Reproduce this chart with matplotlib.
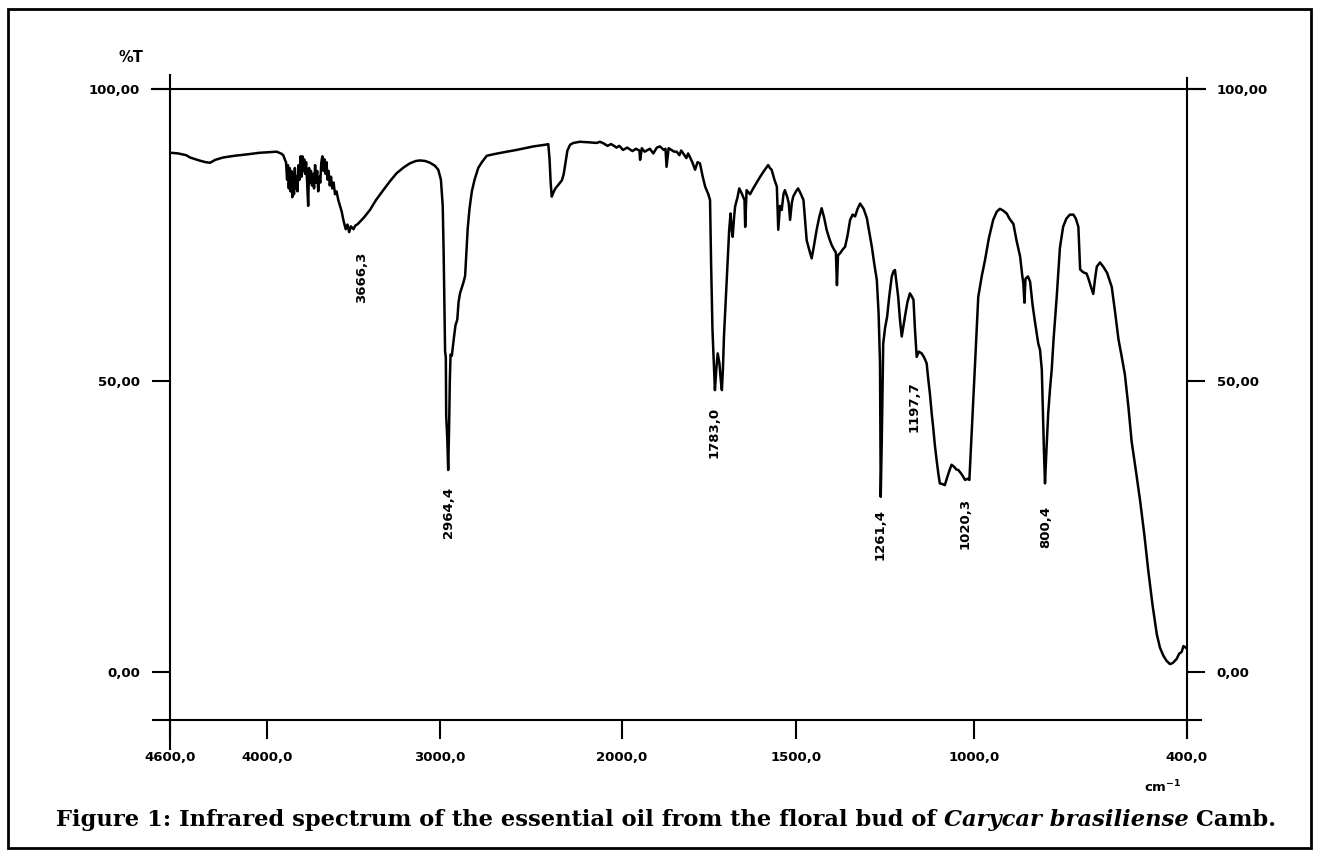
import numpy as np
import matplotlib
matplotlib.use('Agg')
import matplotlib.pyplot as plt
from matplotlib.lines import Line2D
from matplotlib.patches import Rectangle

# ---- spectrum ----
wavenumber = [4590, 4550, 4500, 4476, 4420, 4380, 4352, 4320, 4272, 4200, 4105, 4050, 3990, 3944, 3920, 3906, 3895,
              3890, 3884, 3879, 3874, 3869, 3864, 3859, 3854, 3849, 3844, 3839, 3834, 3829, 3824, 3818, 3812, 3806,
              3800, 3795, 3790, 3785, 3780, 3774, 3768, 3762, 3757, 3752, 3746, 3740, 3734, 3728, 3722, 3716, 3710,
              3704, 3698, 3692, 3686, 3680, 3674, 3668, 3662, 3656, 3650, 3644, 3637, 3630, 3623, 3615, 3607, 3598,
              3588, 3578, 3568, 3558,
              3545, 3535, 3525, 3515, 3500, 3490, 3475, 3462, 3440, 3405, 3370, 3328, 3290, 3251, 3210, 3174,
              3140, 3116, 3085, 3058, 3030, 3010, 2995, 2985, 2980, 2975, 2972, 2968, 2966, 2960, 2955, 2950, 2946,
              2942, 2935, 2925, 2915, 2905, 2898, 2890, 2880, 2870, 2862, 2855, 2848, 2838, 2825, 2810, 2790, 2770,
              2743, 2700, 2650, 2579, 2487, 2420, 2405, 2398, 2392, 2386, 2377, 2366, 2350, 2330, 2320, 2310, 2300,
              2285, 2267, 2231, 2180, 2139, 2121, 2100, 2080, 2060, 2049, 2030, 2015, 1997, 1985, 1970, 1960, 1950,
              1948, 1943, 1935, 1920, 1910, 1900, 1891, 1880, 1875, 1872, 1866, 1858, 1850, 1843, 1835, 1830, 1824,
              1815, 1810, 1805, 1798, 1790, 1783, 1776, 1768, 1761, 1752, 1747, 1744, 1740, 1736, 1733, 1729, 1725,
              1720, 1716, 1713, 1710, 1707, 1699, 1692, 1688, 1685, 1682, 1678, 1675, 1668, 1663, 1655, 1648, 1646,
              1642, 1632, 1623, 1613, 1603, 1592, 1580, 1575, 1570, 1562, 1555, 1551, 1546, 1541, 1536, 1532, 1525,
              1521, 1517, 1512, 1508, 1500, 1494, 1486, 1479, 1475, 1470, 1463, 1456, 1450, 1442, 1435, 1428, 1421,
              1414, 1407, 1400, 1393, 1388, 1385, 1382, 1376, 1369, 1362, 1355, 1348, 1341, 1334, 1327, 1320, 1310,
              1301, 1294, 1287, 1280, 1273, 1268, 1264, 1262, 1259, 1258, 1255, 1250, 1244, 1238, 1231, 1226, 1222,
              1218, 1213, 1208, 1203, 1198, 1194, 1187, 1180, 1175, 1170, 1166, 1161, 1155, 1147, 1140, 1133, 1128,
              1124, 1119, 1114, 1110, 1105, 1100, 1096, 1089, 1082, 1075, 1068, 1063, 1055, 1050, 1044, 1035, 1025,
              1018, 1013, 1006, 997, 988, 978, 969, 958, 946, 936, 927, 918, 908, 900, 889, 880, 870, 864, 861, 858,
              855, 848, 842, 835, 828, 819, 814, 809, 806, 803, 800, 796, 791, 786, 781, 776, 767, 758, 749, 740,
              730, 720, 713, 706, 703, 701, 692, 683, 678, 670, 664, 659, 654, 645, 635, 625, 612, 603, 593, 585,
              575, 565, 556, 545, 532, 520, 509, 497, 485, 476, 467, 458, 448, 440, 429, 422, 415, 410, 403]
transmittance = [89.1, 89.0, 88.7, 88.3, 87.8, 87.5, 87.4, 87.9, 88.3, 88.6, 88.9, 89.1, 89.2, 89.3, 89.0, 88.7, 87.8,
                 87.5, 84.5, 87.0, 83.0, 86.5, 82.5, 86.0, 81.5, 85.5, 82.0, 86.5, 83.0, 85.0, 82.5, 87.0, 84.5, 88.5,
                 85.0, 88.5, 86.0, 88.0, 85.5, 87.5, 84.0, 80.0, 86.5, 84.0, 86.0, 83.5, 85.5, 83.0, 87.0, 84.0, 86.0,
                 82.5, 85.0, 84.0, 87.5, 88.5, 86.0, 88.0, 85.5, 87.5, 84.5, 86.0, 83.5, 85.0, 83.0, 84.0, 82.0, 82.5,
                 81.0, 80.0, 79.0, 77.5,
                 76.0, 76.8, 75.5, 76.5, 76.0, 76.6, 76.9, 77.3, 78.0, 79.3, 81.0, 82.7, 84.2, 85.6, 86.6, 87.3,
                 87.7, 87.8, 87.7, 87.4, 86.9, 86.2, 84.5, 80.0, 72.0, 62.0, 55.0, 54.0, 44.0, 40.0, 34.7, 42.0, 50.0,
                 54.5, 54.3, 57.0, 59.5, 60.5, 63.5, 65.0, 66.0, 67.0, 68.0, 72.0, 76.0, 79.5, 82.5, 84.5, 86.5, 87.5,
                 88.6, 88.9, 89.2, 89.6, 90.2, 90.5, 90.6, 88.0, 84.0, 81.6, 82.3, 83.0, 83.6, 84.4, 85.5, 87.5, 89.5,
                 90.5, 90.8, 91.0, 90.9, 90.8, 91.0, 90.7, 90.3, 90.6, 90.4, 90.0, 90.3, 89.6, 90.0, 89.4, 89.8, 89.5,
                 87.9, 89.9, 89.3, 89.8, 89.0, 90.0, 90.2, 89.6, 89.8, 86.7, 89.9, 89.6, 89.3, 89.3, 88.7, 89.5, 89.0,
                 88.2, 89.0, 88.4, 87.5, 86.2, 87.5, 87.3, 85.0, 83.3, 82.0, 81.0, 70.2, 58.7, 53.0, 48.4, 52.0, 54.7,
                 53.0, 50.0, 48.4, 52.0, 57.6, 67.3, 75.9, 78.7, 76.0, 74.7, 78.0, 79.9, 81.5, 83.0, 82.0, 81.0, 76.4,
                 82.7, 82.0, 83.0, 84.0, 85.0, 86.0, 87.0, 86.5, 86.2, 84.5, 83.3, 75.9, 80.0, 79.3, 82.0, 82.7, 81.5,
                 80.5, 77.6, 80.5, 81.6, 82.5, 83.0, 82.0, 81.0, 78.0, 74.1, 72.5, 71.0, 73.0, 75.9, 78.0, 79.6, 78.0,
                 75.9, 74.5, 73.3, 72.5, 72.0, 66.4, 71.5, 71.9, 72.5, 73.0, 75.0, 77.6, 78.5, 78.2, 79.5, 80.4, 79.5,
                 77.9, 75.5, 73.0, 70.0, 67.3, 61.6, 53.0, 30.1, 40.0, 44.4, 56.4, 59.0, 61.0, 64.5, 67.9, 68.8, 69.0,
                 67.0, 64.4, 60.5, 57.6, 59.5, 61.0, 63.5, 65.0, 64.5, 63.9, 59.0, 54.1, 55.0, 54.7, 54.0, 53.0, 50.0,
                 47.9, 44.5, 41.6, 39.0, 36.4, 34.0, 32.4, 32.3, 32.1, 33.5, 34.8, 35.6, 35.2, 34.8, 34.7, 34.0, 33.0,
                 33.2, 33.0, 41.6, 53.0, 64.4, 68.0, 70.7, 74.5, 77.6, 79.0, 79.5, 79.2, 78.7, 77.8, 76.9, 74.0, 71.3,
                 68.0, 66.7, 63.4, 67.5, 67.9, 67.0, 63.0, 60.0, 56.4, 55.3, 51.9, 45.0, 38.0, 32.4, 38.0, 44.4, 48.5,
                 52.0, 57.0, 64.4, 72.8, 76.4, 77.8, 78.5, 78.5, 77.8, 76.4, 72.0, 69.1, 68.6, 68.4, 67.6, 66.0, 64.9,
                 67.5, 69.6, 70.3, 69.5, 68.5, 66.1, 62.0, 57.1, 54.5, 51.1, 45.5, 39.6, 35.0, 29.4, 23.5, 17.4, 11.5,
                 6.5, 4.2, 2.9, 2.0, 1.4, 1.6, 2.3, 3.2, 3.5, 4.5, 4.2]

peak_labels = ["3666,3", "2964,4", "1783,0", "1261,4", "1197,7", "1020,3", "800,4"]
peak_label_x = [3451, 2954, 1736, 1264, 1169, 1025, 797]
peak_label_y = [67.8, 27.5, 41.2, 23.6, 45.5, 25.6, 25.0]

x_ticks = [4600, 4000, 3000, 2000, 1500, 1000, 400]
x_tick_labels = ["4600,0", "4000,0", "3000,0", "2000,0", "1500,0", "1000,0", "400,0"]
y_ticks = [0, 50, 100]
y_tick_labels = ["0,00", "50,00", "100,00"]

# chart paper is not linear in wavenumber: piecewise scale through the printed ticks
scale_wn = np.array([400, 1000, 1500, 2000, 3000, 4000, 4600], float)
scale_u = np.array([0, 213, 391, 565, 747, 920, 1017], float)


def _pw(x, xp, fp):
    x = np.asarray(x, float)
    y = np.interp(x, xp, fp)
    s0 = (fp[1] - fp[0]) / (xp[1] - xp[0])
    s1 = (fp[-1] - fp[-2]) / (xp[-1] - xp[-2])
    y = np.where(x < xp[0], fp[0] + (x - xp[0]) * s0, y)
    y = np.where(x > xp[-1], fp[-1] + (x - xp[-1]) * s1, y)
    return y


def fwd(x):
    return _pw(x, scale_wn, scale_u)


def inv(u):
    return _pw(u, scale_u, scale_wn)


W, H = 1317, 858
fig = plt.figure(figsize=(W / 100, H / 100), dpi=100)
fig.patch.set_facecolor('white')

ax = fig.add_axes([170 / W, (H - 720.1) / H, 1017 / W, 630.8 / H])
ax.set_xscale('function', functions=(fwd, inv))
ax.set_xlim(4600, 400)
ax.set_ylim(-8.2, 100)

ax.plot(wavenumber, transmittance, color='black', lw=1.8, solid_joinstyle='round')

for s in ax.spines.values():
    s.set_visible(False)

# hand drawn style frame lines, overshooting each other
aw, ah = 1017.0, 630.8
frame = [([-18 / aw, 1 + 18 / aw], [1, 1]),
         ([-17 / aw, 1 + 14 / aw], [0, 0]),
         ([0, 0], [-29 / ah, 1 + 14 / ah]),
         ([1, 1], [-18 / ah, 1 + 11 / ah])]
for xs, ys in frame:
    ax.add_line(Line2D(xs, ys, transform=ax.transAxes, color='black', lw=1.5, clip_on=False))

ax.set_xticks(x_ticks)
ax.set_xticklabels(x_tick_labels)
ax.xaxis.set_minor_locator(matplotlib.ticker.NullLocator())
ax.set_yticks(y_ticks)
ax.set_yticklabels(y_tick_labels)
ax.tick_params(axis='x', direction='out', length=14, width=1.5, pad=8, labelsize=9.5)
ax.tick_params(axis='y', direction='out', length=13, width=1.5, pad=8.5, labelsize=9.5,
               left=True, right=True, labelleft=True, labelright=True)
for t in ax.xaxis.get_major_ticks() + ax.yaxis.get_major_ticks():
    t.label1.set_fontweight('bold')
    t.label2.set_fontweight('bold')

for lab, x, y in zip(peak_labels, peak_label_x, peak_label_y):
    ax.text(x, y, lab, rotation=90, ha='center', va='center', fontsize=9.5, fontweight='bold')

fig.text(131 / W, (H - 57) / H, "%T", ha='center', va='center', fontsize=10.5, fontweight='bold')
fig.text(1163 / W, (H - 787) / H, r"cm$^{\mathbf{-1}}$", ha='center', va='center', fontsize=9.5, fontweight='bold')

# caption with italic species name, fitted to the printed width
cap_y = (H - 820) / H
parts = [("Figure 1: Infrared spectrum of the essential oil from the floral bud of ", 'normal'),
         ("Carycar brasiliense", 'italic'),
         (" Camb.", 'normal')]
r = fig.canvas.get_renderer()
texts = [fig.text(0, cap_y, s, ha='left', va='center', fontsize=16, fontweight='bold',
                  fontstyle=st, family='DejaVu Serif') for s, st in parts]
total = sum(t.get_window_extent(r).width for t in texts)
fs = 16 * 1222 / total
for t in texts:
    t.set_fontsize(fs)
widths = [t.get_window_extent(r).width / W for t in texts]
x = 666 / W - sum(widths) / 2
for t, w in zip(texts, widths):
    t.set_x(x)
    x += w

fig.patches.append(Rectangle((8 / W, (H - 848) / H), 1303 / W, 839 / H, transform=fig.transFigure,
                             fill=False, edgecolor='black', lw=2))

fig.savefig('out.png', dpi=100)
